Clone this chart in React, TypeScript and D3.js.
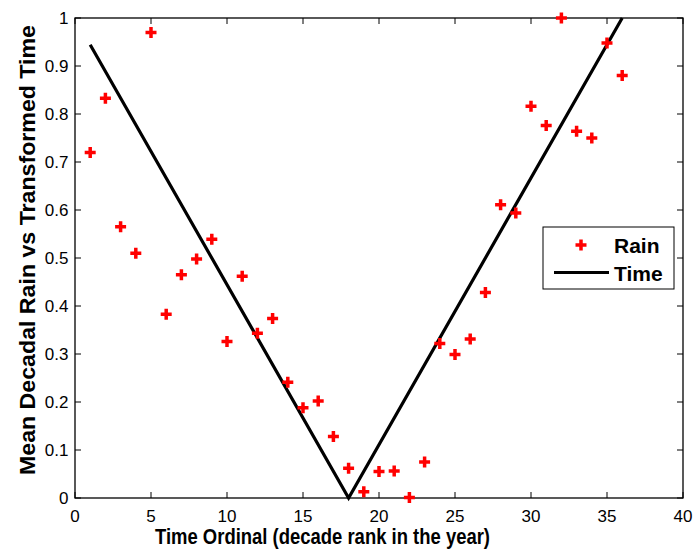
import React from "react";
import * as d3 from "d3";

const ordinals = [1,2,3,4,5,6,7,8,9,10,11,12,13,14,15,16,17,18,19,20,21,22,23,24,25,26,27,28,29,30,31,32,33,34,35,36];
const rain = [0.72,0.833,0.565,0.51,0.97,0.383,0.465,0.498,0.539,0.326,0.462,0.343,0.374,0.241,0.188,0.202,0.128,0.062,0.013,0.055,0.056,0.001,0.075,0.322,0.299,0.331,0.428,0.611,0.594,0.816,0.776,1.0,0.764,0.75,0.948,0.88];
const timeX = [1, 18, 36];
const timeY = [0.9444, 0, 1];
const xTicks = [0,5,10,15,20,25,30,35,40];
const yTicks = [0,0.1,0.2,0.3,0.4,0.5,0.6,0.7,0.8,0.9,1];
const xLabel = "Time Ordinal (decade rank in the year)";
const yLabel = "Mean Decadal Rain vs Transformed Time";
const legendLabels = ["Rain", "Time"];

const W = 694, H = 549;
const L = 75, R = 683, T = 18, B = 498;
const font = "Liberation Sans, Arial, sans-serif";

export default function App() {
  const x = d3.scaleLinear().domain([0, 40]).range([L, R]);
  const y = d3.scaleLinear().domain([0, 1]).range([B, T]);
  const line = d3.line<number>().x((_, i) => x(timeX[i])).y((d) => y(d));
  const plus = (cx: number, cy: number, k: string) => (
    <path key={k} d={`M${cx - 5.5},${cy}H${cx + 5.5}M${cx},${cy - 5.5}V${cy + 5.5}`} stroke="#ff0000" strokeWidth={3.5} fill="none" />
  );
  return (
    <svg width={W} height={H} style={{ position: "absolute", left: 0, top: 0, background: "#fff" }}>
      <rect x={0} y={0} width={W} height={H} fill="#fff" />
      <defs>
        <clipPath id="plotclip"><rect x={L} y={T - 8} width={R - L} height={B - T + 16} /></clipPath>
      </defs>
      {xTicks.map((t) => (
        <g key={"xt" + t}>
          <line x1={x(t)} x2={x(t)} y1={B} y2={B - 6} stroke="#000" strokeWidth={1} />
          <line x1={x(t)} x2={x(t)} y1={T} y2={T + 6} stroke="#000" strokeWidth={1} />
          <text x={x(t)} y={521.5} textAnchor="middle" fontFamily={font} fontSize={17} fill="#000">{t}</text>
        </g>
      ))}
      {yTicks.map((t) => (
        <g key={"yt" + t}>
          <line x1={L} x2={L + 6} y1={y(t)} y2={y(t)} stroke="#000" strokeWidth={1} />
          <line x1={R} x2={R - 6} y1={y(t)} y2={y(t)} stroke="#000" strokeWidth={1} />
          <text x={68.5} y={y(t)} dy="0.36em" textAnchor="end" fontFamily={font} fontSize={17} fill="#000">{d3.format("~g")(t)}</text>
        </g>
      ))}
      <rect x={L} y={T} width={R - L} height={B - T} fill="none" stroke="#000" strokeWidth={1.3} />
      <g clipPath="url(#plotclip)">
        <path d={line(timeY) || ""} stroke="#000" strokeWidth={3.2} fill="none" />
        {rain.map((v, i) => plus(x(ordinals[i]), y(v), "p" + i))}
      </g>
      <rect x={543} y={227} width={131} height={62} fill="#fff" stroke="#000" strokeWidth={1} />
      {plus(581, 245, "leg")}
      <text x={614} y={253} fontFamily={font} fontWeight="bold" fontSize={21} fill="#000">{legendLabels[0]}</text>
      <line x1={554} x2={609} y1={272.5} y2={272.5} stroke="#000" strokeWidth={3.2} />
      <text x={614} y={280.5} fontFamily={font} fontWeight="bold" fontSize={21} fill="#000">{legendLabels[1]}</text>
      <text x={155} y={544} textLength={335} lengthAdjust="spacingAndGlyphs" fontFamily={font} fontWeight="bold" fontSize={22} fill="#000">{xLabel}</text>
      <text transform="translate(35,475) rotate(-90)" textLength={450} lengthAdjust="spacingAndGlyphs" fontFamily={font} fontWeight="bold" fontSize={22} fill="#000">{yLabel}</text>
    </svg>
  );
}
